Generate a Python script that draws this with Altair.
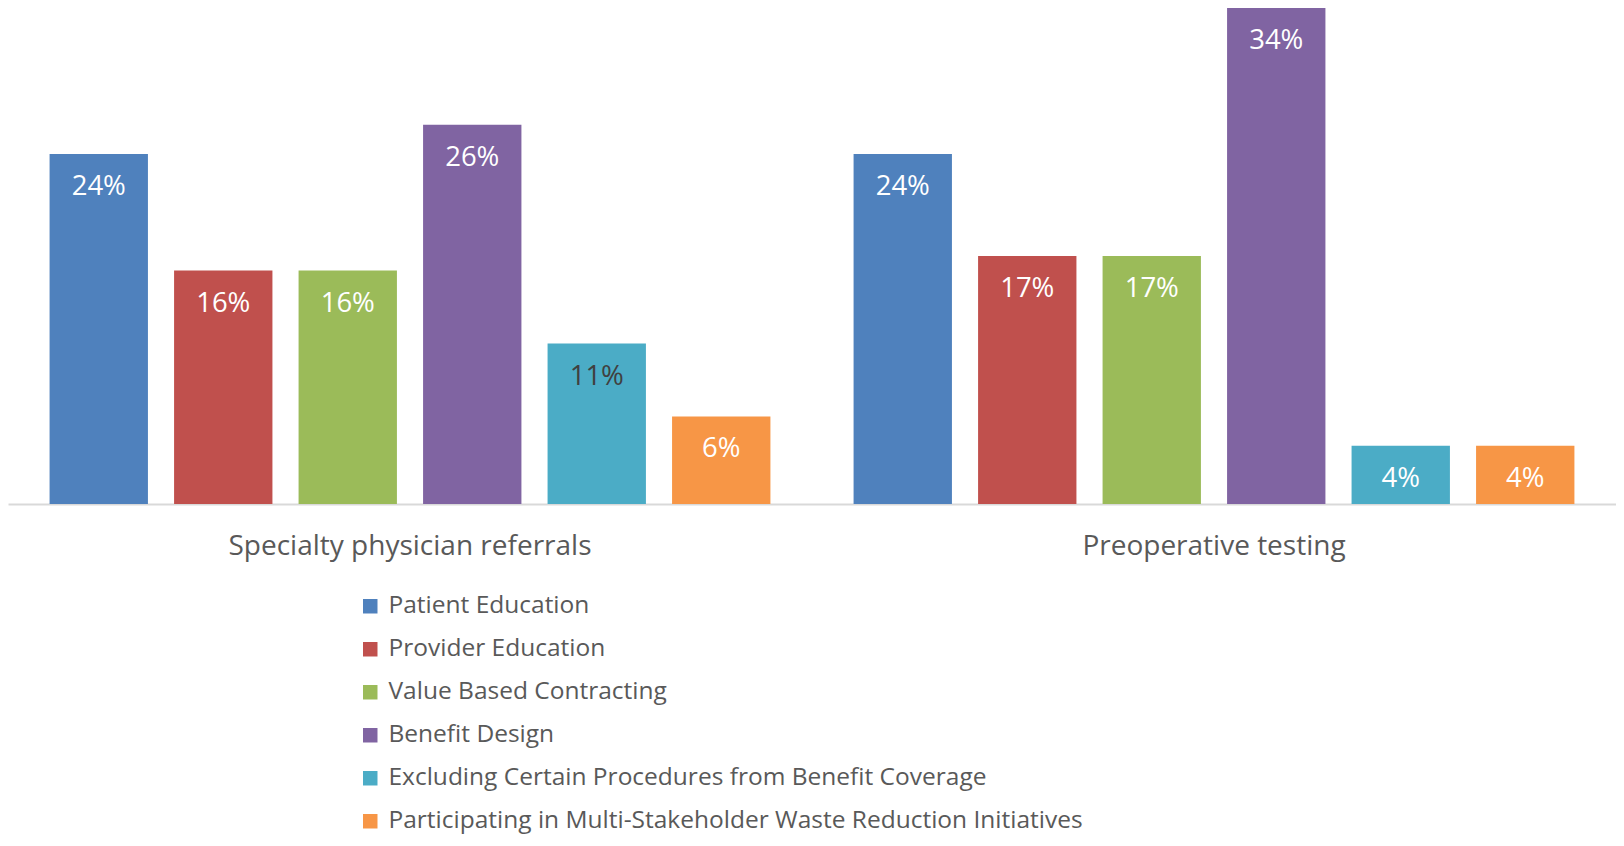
import altair as alt
import pandas as pd

groups = ["Specialty physician referrals", "Preoperative testing"]
series = [
    "Patient Education",
    "Provider Education",
    "Value Based Contracting",
    "Benefit Design",
    "Excluding Certain Procedures from Benefit Coverage",
    "Participating in Multi-Stakeholder Waste Reduction Initiatives",
]
referrals = [24, 16, 16, 26, 11, 6]
preop = [24, 17, 17, 34, 4, 4]
colors = ["#4F81BD", "#C0504D", "#9BBB59", "#8064A2", "#4BACC6", "#F79646"]

rows = []
for g, vals in zip(groups, [referrals, preop]):
    for i, (s, v) in enumerate(zip(series, vals)):
        rows.append({"group": g, "series": s, "order": i, "value": v, "label": f"{v}%"})
df = pd.DataFrame(rows)

FONT = "Open Sans"
GREY = "#595959"

x = alt.X("group:N", sort=groups, title=None,
          scale=alt.Scale(paddingInner=0, paddingOuter=0),
          axis=alt.Axis(labelFontSize=28, labelColor=GREY, labelFont=FONT,
                        labelPadding=28, ticks=False, domainColor="#D9D9D9",
                        domainWidth=2, labelAngle=0, labelLimit=1000))
xo = alt.XOffset("series:N", sort=series,
                 scale=alt.Scale(paddingInner=0.21, paddingOuter=0.334))
y = alt.Y("value:Q", scale=alt.Scale(domain=[0, 34], nice=False), axis=None)

bars = alt.Chart(df).mark_bar().encode(
    x=x, xOffset=xo, y=y,
    color=alt.Color("series:N", sort=series,
                    scale=alt.Scale(domain=series, range=colors),
                    legend=alt.Legend(title=None, orient="none", legendX=350, legendY=586,
                                      labelFontSize=24.5, labelFont=FONT, labelColor=GREY,
                                      symbolType="square", symbolSize=210, symbolStrokeWidth=0,
                                      rowPadding=18, labelOffset=6, padding=0,
                                      labelLimit=1000)),
)

text = alt.Chart(df).mark_text(dy=33, baseline="middle", fontSize=27.5, font=FONT).encode(
    x=x, xOffset=xo, y=y, text="label:N",
    color=alt.condition("datum.value == 11", alt.value("#404040"), alt.value("#FFFFFF")),
)

chart = (bars + text).properties(
    width=1608, height=496,
    padding={"left": 0, "top": 0, "right": 0, "bottom": 8},
).configure_view(stroke=None)

chart.save("out.html", embed_options={"renderer": "svg", "actions": False})
